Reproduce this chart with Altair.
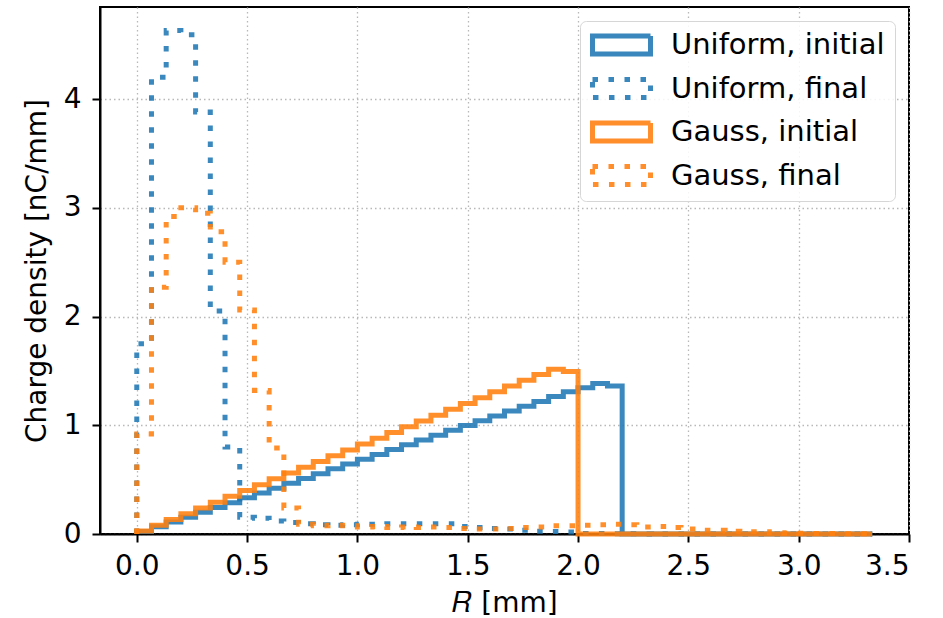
import altair as alt
import pandas as pd

# ---- data (charge per bin, nC/mm) ----
SERIES = ["Uniform, initial", "Uniform, final", "Gauss, initial", "Gauss, final"]
COLORS = ["#1f77b4", "#1f77b4", "#ff7f0e", "#ff7f0e"]
BIN_WIDTH = 1.0 / 15.0   # mm
N_BINS = 50

UNIFORM_INITIAL = [
    0.022, 0.067, 0.111, 0.155, 0.200, 0.244, 0.288, 0.333, 0.377, 0.421,
    0.466, 0.510, 0.554, 0.599, 0.643, 0.687, 0.732, 0.776, 0.820, 0.865,
    0.909, 0.953, 0.998, 1.042, 1.086, 1.131, 1.175, 1.219, 1.264, 1.308,
    1.345, 1.385, 1.360, 0, 0, 0, 0, 0, 0, 0,
    0, 0, 0, 0, 0, 0, 0, 0, 0, 0,
]
UNIFORM_FINAL = [
    1.75, 4.20, 4.63, 4.59, 3.88, 2.05, 0.80, 0.155, 0.145, 0.12,
    0.105, 0.095, 0.085, 0.080, 0.085, 0.090, 0.090, 0.095, 0.095, 0.095,
    0.095, 0.095, 0.070, 0.060, 0.050, 0.045, 0.035, 0.025, 0.022, 0.018,
    0.005, 0.004, 0.003, 0.002, 0.001, 0, 0, 0, 0, 0,
    0, 0, 0, 0, 0, 0, 0, 0, 0, 0,
]
GAUSS_INITIAL = [
    0.027, 0.080, 0.133, 0.187, 0.240, 0.293, 0.347, 0.400, 0.453, 0.507,
    0.560, 0.613, 0.667, 0.720, 0.773, 0.827, 0.880, 0.933, 0.987, 1.040,
    1.093, 1.147, 1.200, 1.253, 1.307, 1.360, 1.413, 1.466, 1.515, 1.495,
    0, 0, 0, 0, 0, 0, 0, 0, 0, 0,
    0, 0, 0, 0, 0, 0, 0, 0, 0, 0,
]
GAUSS_FINAL = [
    0.92, 2.27, 2.92, 3.00, 2.95, 2.78, 2.50, 2.06, 1.32, 0.79,
    0.24, 0.090, 0.075, 0.080, 0.075, 0.065, 0.070, 0.060, 0.065, 0.060,
    0.065, 0.060, 0.050, 0.045, 0.045, 0.050, 0.060, 0.065, 0.075, 0.075,
    0.080, 0.085, 0.090, 0.085, 0.065, 0.070, 0.060, 0.045, 0.035, 0.035,
    0.025, 0.020, 0.020, 0.012, 0.008, 0.006, 0.005, 0.004, 0.003, 0.003,
]

X_TICKS = [0.0, 0.5, 1.0, 1.5, 2.0, 2.5, 3.0, 3.5]
Y_TICKS = [0, 1, 2, 3, 4]

# ---- build step outline table (histtype="step") ----
edges = [i * BIN_WIDTH for i in range(N_BINS + 1)]
rows = []
for name, vals in zip(SERIES, [UNIFORM_INITIAL, UNIFORM_FINAL, GAUSS_INITIAL, GAUSS_FINAL]):
    pts = [(edges[0], 0.0)] + [(edges[i], v) for i, v in enumerate(vals)] + [(edges[-1], 0.0)]
    for k, (x, y) in enumerate(pts):
        rows.append({"series": name, "r": x, "q": y, "k": k})
df = pd.DataFrame(rows)

FONT = "DejaVu Sans"
FS = 28
W, H = 809, 527

rect_symbol = "M-1,-0.31H1V0.31H-1Z"


def make_legend():
    return alt.Legend(title=None, orient="top-right", offset=14,
                      symbolType=rect_symbol, symbolSize=58 * 58,
                      symbolStrokeWidth=5, symbolOpacity=0.88,
                      symbolFillColor="transparent",
                      labelFontSize=29, labelFont=FONT, labelLimit=0,
                      labelColor="black", labelOffset=18,
                      clipHeight=28, rowPadding=14.5, padding=10,
                      fillColor="rgba(255,255,255,0.85)",
                      strokeColor="#d6d6d6", cornerRadius=6)


chart = (
    alt.Chart(df)
    .mark_line(interpolate="step-after", strokeWidth=5, strokeOpacity=0.88,
               strokeJoin="miter", strokeCap="butt")
    .encode(
        x=alt.X("r:Q",
                scale=alt.Scale(domain=[-1.0 / 6.0, 3.5], nice=False, zero=False),
                axis=alt.Axis(values=X_TICKS, format=".1f", title="𝑅 [mm]",
                              titleY=77, titleBaseline="alphabetic",
                              labelPadding=10)),
        y=alt.Y("q:Q",
                scale=alt.Scale(domain=[0, 4.846], nice=False, zero=False),
                axis=alt.Axis(values=Y_TICKS, format="d", title="Charge density [nC/mm]",
                              titleX=-63, titleY=H / 2, titleAngle=270,
                              titleBaseline="middle", titleAlign="center",
                              labelPadding=11)),
        color=alt.Color("series:N",
                        scale=alt.Scale(domain=SERIES, range=COLORS),
                        sort=SERIES, legend=make_legend()),
        strokeDash=alt.StrokeDash("series:N",
                                  scale=alt.Scale(domain=SERIES,
                                                  range=[[1, 0], [5.5, 10.5], [1, 0], [5.5, 10.5]]),
                                  sort=SERIES, legend=make_legend()),
        detail="series:N",
        order="k:Q",
    )
    .properties(width=W, height=H,
                autosize=alt.AutoSizeParams(type="none"),
                padding={"left": 100, "top": 7, "right": 34, "bottom": 84})
    .configure_view(stroke="black", strokeWidth=2)
    .configure_axis(
        labelFont=FONT, labelFontSize=FS, labelColor="black",
        titleFont=FONT, titleFontSize=FS, titleColor="black", titleFontWeight="normal",
        domainColor="black", domainWidth=2,
        tickColor="black", tickWidth=2, tickSize=8,
        grid=True, gridColor="#b8b8b8", gridWidth=1.3, gridDash=[1.5, 3],
    )
)

chart.save("out.html", embed_options={"renderer": "svg", "actions": False})
